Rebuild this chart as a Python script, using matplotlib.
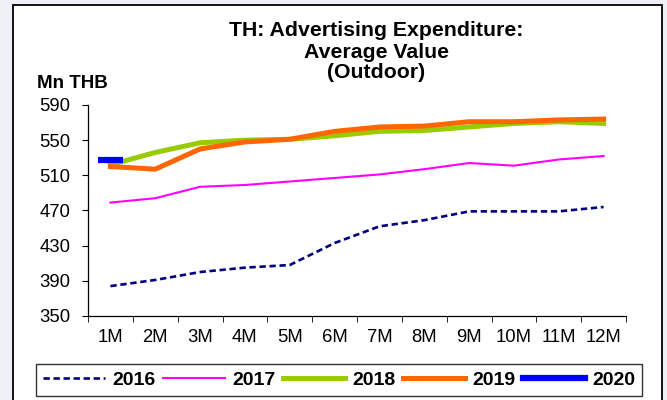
import numpy as np
import matplotlib
matplotlib.use("Agg")
from matplotlib import pyplot as plt
from matplotlib.lines import Line2D
from matplotlib.patches import Rectangle

plt.rcParams['font.family'] = ['Liberation Sans', 'DejaVu Sans']

months = ['1M', '2M', '3M', '4M', '5M', '6M', '7M', '8M', '9M', '10M', '11M', '12M']

# average outdoor ad spend per month, Mn THB
y2016 = [384, 391, 400, 405, 408, 433, 452, 459, 469, 469, 469, 474]
y2017 = [479, 484, 497, 499, 503, 507, 511, 517, 524, 521, 528, 532]
y2018 = [522, 536, 547, 550, 551, 555, 560, 561, 565, 569, 571, 569]
y2019 = [520, 517, 540, 548, 551, 560, 565, 566, 571, 571, 573, 574]
y2020 = [527]

yticks = [350, 390, 430, 470, 510, 550, 590]

fig = plt.figure(figsize=(6.67, 4.0), dpi=100, facecolor='#eff0f7')

# white panel with black frame
px = lambda x: x / 667.0
py = lambda y: 1 - y / 400.0
fig.patches.append(Rectangle((px(13), py(404)), px(662) - px(13), py(5) - py(404),
                             transform=fig.transFigure, facecolor='white',
                             edgecolor='black', linewidth=1.3, zorder=-5))

ax = fig.add_axes([px(88), py(316), px(626) - px(88), py(105) - py(316)])
ax.set_facecolor('none')

x = np.arange(1, len(months) + 1)
l16, = ax.plot(x, y2016, color='#000080', lw=1.9, ls=(0, (2.4, 1.4)))
l17, = ax.plot(x, y2017, color='#ff00ff', lw=1.5)
l18, = ax.plot(x, y2018, color='#99cc00', lw=3.6)
l19, = ax.plot(x, y2019, color='#ff6600', lw=3.6)
ax.plot(x[:len(y2020)], y2020, color='#0000ff', ls='none', marker='_',
        markersize=18, markeredgewidth=4.5)

ax.set_xlim(0.5, 12.5)
ax.set_ylim(350, 590)
ax.set_yticks(yticks)
ax.set_xticks(x)
ax.set_xticklabels(months)
ax.set_xticks(np.arange(0.5, 13, 1), minor=True)
ax.tick_params(axis='x', which='major', length=0, pad=9, labelsize=13.3)
ax.tick_params(axis='x', which='minor', length=4, direction='out')
ax.tick_params(axis='y', length=4.5, direction='out', pad=8, labelsize=13.3)
for s in ['top', 'right']:
    ax.spines[s].set_visible(False)
for s in ['left', 'bottom']:
    ax.spines[s].set_linewidth(0.9)

fig.text(px(376), py(31), 'TH: Advertising Expenditure:', ha='center', va='center',
         fontsize=15.3, fontweight='bold')
fig.text(px(376), py(52), 'Average Value', ha='center', va='center',
         fontsize=15.3, fontweight='bold')
fig.text(px(376), py(72), '(Outdoor)', ha='center', va='center',
         fontsize=15.3, fontweight='bold')
fig.text(px(37), py(83), 'Mn THB', ha='left', va='center',
         fontsize=13.5, fontweight='bold')

h20 = Line2D([], [], color='#0000ff', lw=4.5)
leg = fig.legend([l16, l17, l18, l19, h20], ['2016', '2017', '2018', '2019', '2020'],
                 loc='center', bbox_to_anchor=(px(339), py(380)), ncol=5,
                 prop={'size': 14, 'weight': 'bold'}, frameon=True, fancybox=False,
                 edgecolor='black', handlelength=3.2, handletextpad=0.35,
                 columnspacing=0.4, borderpad=0.35, borderaxespad=0)
leg.get_frame().set_linewidth(1.0)

fig.savefig('out.png', dpi=100, facecolor=fig.get_facecolor())
